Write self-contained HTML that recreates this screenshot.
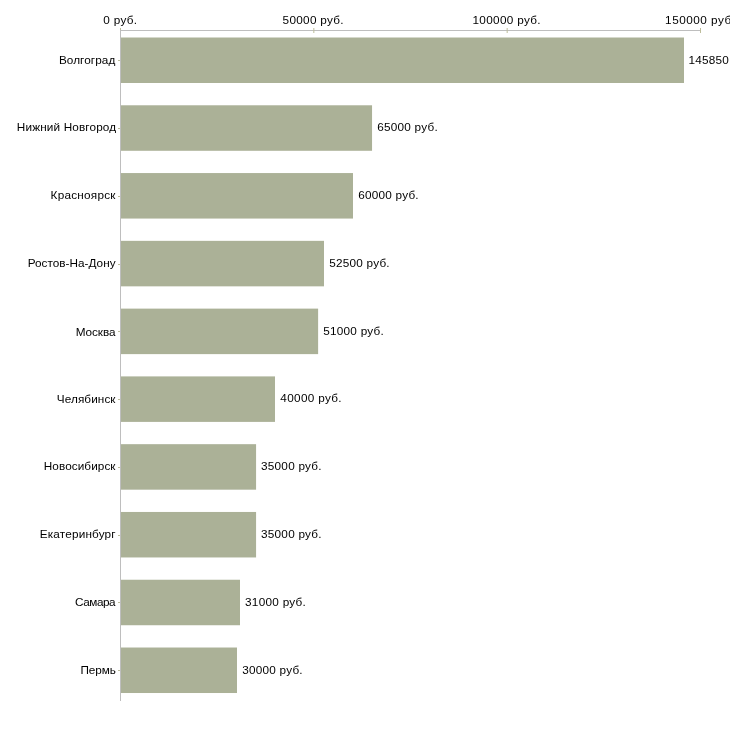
<!DOCTYPE html>
<html><head><meta charset="utf-8"><style>
html,body{margin:0;padding:0;background:#fff;width:730px;height:730px;overflow:hidden}
svg{display:block;will-change:transform}
text{font-family:"Liberation Sans",sans-serif;font-size:11.75px;fill:#000}
</style></head><body>
<svg width="730" height="730" viewBox="0 0 730 730">
<rect x="121" y="37.50" width="563.00" height="45.50" fill="#abb197"/>
<rect x="121" y="105.28" width="251.05" height="45.50" fill="#abb197"/>
<rect x="121" y="173.06" width="232.00" height="45.50" fill="#abb197"/>
<rect x="121" y="240.84" width="203.00" height="45.50" fill="#abb197"/>
<rect x="121" y="308.62" width="197.12" height="45.50" fill="#abb197"/>
<rect x="121" y="376.40" width="154.00" height="45.50" fill="#abb197"/>
<rect x="121" y="444.18" width="135.08" height="45.50" fill="#abb197"/>
<rect x="121" y="511.96" width="135.08" height="45.50" fill="#abb197"/>
<rect x="121" y="579.74" width="119.00" height="45.50" fill="#abb197"/>
<rect x="121" y="647.52" width="116.00" height="45.50" fill="#abb197"/>
<rect x="118" y="60" width="2" height="1" fill="#bdbd9b"/>
<rect x="118" y="128" width="2" height="1" fill="#bdbd9b"/>
<rect x="118" y="196" width="2" height="1" fill="#bdbd9b"/>
<rect x="118" y="264" width="2" height="1" fill="#bdbd9b"/>
<rect x="118" y="331" width="2" height="1" fill="#bdbd9b"/>
<rect x="118" y="399" width="2" height="1" fill="#bdbd9b"/>
<rect x="118" y="467" width="2" height="1" fill="#bdbd9b"/>
<rect x="118" y="535" width="2" height="1" fill="#bdbd9b"/>
<rect x="118" y="602" width="2" height="1" fill="#bdbd9b"/>
<rect x="118" y="670" width="2" height="1" fill="#bdbd9b"/>
<rect x="120" y="30" width="1" height="671" fill="#bebebe"/>
<rect x="120" y="30" width="580" height="1" fill="#bebebe"/>
<rect x="120" y="28" width="1" height="2" fill="#bdbd9b"/>
<rect x="313.33" y="28" width="1" height="5" fill="#bdbd9b"/>
<rect x="506.67" y="28" width="1" height="5" fill="#bdbd9b"/>
<rect x="700" y="28" width="1" height="5" fill="#bdbd9b"/>
<text x="58.92" y="64" textLength="56.37" lengthAdjust="spacing">Волгоград</text>
<text x="688.54" y="64" textLength="40.32" lengthAdjust="spacing">145850</text>
<text x="16.84" y="131" textLength="99.28" lengthAdjust="spacing">Нижний Новгород</text>
<text x="377.15" y="131" textLength="60.62" lengthAdjust="spacing">65000 руб.</text>
<text x="50.61" y="199" textLength="64.88" lengthAdjust="spacing">Красноярск</text>
<text x="358.15" y="199" textLength="60.49" lengthAdjust="spacing">60000 руб.</text>
<text x="27.64" y="267" textLength="87.91" lengthAdjust="spacing">Ростов-На-Дону</text>
<text x="329.20" y="267" textLength="60.43" lengthAdjust="spacing">52500 руб.</text>
<text x="75.64" y="336" textLength="39.92" lengthAdjust="spacing">Москва</text>
<text x="323.20" y="335" textLength="60.56" lengthAdjust="spacing">51000 руб.</text>
<text x="56.83" y="403" textLength="58.64" lengthAdjust="spacing">Челябинск</text>
<text x="280.35" y="402" textLength="61.18" lengthAdjust="spacing">40000 руб.</text>
<text x="43.76" y="470" textLength="71.72" lengthAdjust="spacing">Новосибирск</text>
<text x="260.97" y="470" textLength="60.64" lengthAdjust="spacing">35000 руб.</text>
<text x="39.76" y="538" textLength="75.87" lengthAdjust="spacing">Екатеринбург</text>
<text x="260.97" y="538" textLength="60.64" lengthAdjust="spacing">35000 руб.</text>
<text x="75.11" y="606" textLength="40.45" lengthAdjust="spacing">Самара</text>
<text x="245.05" y="606" textLength="60.82" lengthAdjust="spacing">31000 руб.</text>
<text x="80.51" y="674" textLength="35.26" lengthAdjust="spacing">Пермь</text>
<text x="242.33" y="674" textLength="60.30" lengthAdjust="spacing">30000 руб.</text>
<text x="103.22" y="24" textLength="33.84" lengthAdjust="spacing">0 руб.</text>
<text x="282.59" y="24" textLength="61.02" lengthAdjust="spacing">50000 руб.</text>
<text x="472.38" y="24" textLength="68.25" lengthAdjust="spacing">100000 руб.</text>
<text x="665.12" y="24" textLength="69.88" lengthAdjust="spacing">150000 руб.</text>
</svg>
</body></html>
